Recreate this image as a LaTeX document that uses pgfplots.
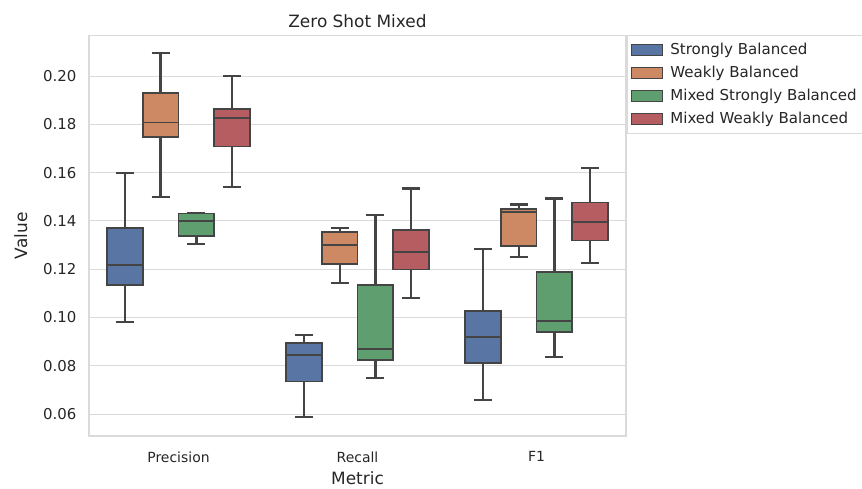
\documentclass[border=0pt]{standalone}
\usepackage{pgfplots}
\pgfplotsset{compat=1.18}
\usepgfplotslibrary{statistics}
\usepackage{fontspec}
\setmainfont{DejaVu Sans}
\definecolor{cSB}{HTML}{5975A4}
\definecolor{cWB}{HTML}{CC8963}
\definecolor{cMSB}{HTML}{5F9E6E}
\definecolor{cMWB}{HTML}{B55D60}
\definecolor{edge}{HTML}{444444}
\definecolor{gridc}{HTML}{DADADA}
\definecolor{txt}{HTML}{262626}
\pgfplotsset{
  bx/.style={draw=edge, line width=1.8bp, solid, mark=none, fill=#1},
  legimg/.style={legend image code/.code={\draw[draw=edge, line width=1bp, fill=#1] (0bp,-5.5bp) rectangle (31bp,5.5bp); \path (36bp,0);}},
}
\begin{document}
\begin{tikzpicture}
\begin{axis}[
  scale only axis, width=537bp, height=400.5bp,
  xmin=-0.5, xmax=2.5, ymin=0.0509, ymax=0.2168,
  xtick={0,1,2}, xticklabels={Precision,Recall,F1},
  ytick={0.06,0.08,0.10,0.12,0.14,0.16,0.18,0.20},
  yticklabel style={/pgf/number format/fixed, /pgf/number format/fixed zerofill, /pgf/number format/precision=2, font=\fontsize{15}{18}\selectfont, text=txt, xshift=-9bp},
  xticklabel style={font=\fontsize{14}{17}\selectfont, text=txt, yshift=-12bp},
  /pgf/number format/assume math mode=true,
  major tick length=0pt,
  ymajorgrids, grid style={draw=gridc, line width=1bp},
  axis line style={draw=gridc, line width=1.25bp},
  title={Zero Shot Mixed}, title style={font=\fontsize{17}{20}\selectfont, text=txt, yshift=-2bp},
  xlabel={Metric}, ylabel={Value},
  label style={font=\fontsize{17}{20}\selectfont, text=txt},
  xlabel style={yshift=-2bp},
  ylabel style={yshift=9bp},
  boxplot/draw direction=y,
  boxplot/box extend=0.2, boxplot/whisker extend=0.1,
  boxplot/every whisker/.style={draw=edge, line width=2.2bp, solid},
  boxplot/every median/.style={draw=edge, line width=1.8bp, solid},
  boxplot/every box/.style={draw=edge, line width=1.8bp, solid},
  legend style={at={(1.002,1)}, anchor=north west, draw=gridc, line width=0.8bp, fill=white, font=\fontsize{15.1}{18}\selectfont, text=txt, row sep=6.1bp, inner xsep=4bp, inner ysep=5.6bp},
  legend cell align=left,
]
\addlegendimage{legimg=cSB}\addlegendentry{Strongly Balanced}
\addlegendimage{legimg=cWB}\addlegendentry{Weakly Balanced}
\addlegendimage{legimg=cMSB}\addlegendentry{Mixed Strongly Balanced}
\addlegendimage{legimg=cMWB}\addlegendentry{Mixed Weakly Balanced}
% Precision
\addplot[bx=cSB, boxplot prepared={draw position=-0.3, lower whisker=0.0982, lower quartile=0.1134, median=0.1217, upper quartile=0.1369, upper whisker=0.1600}] coordinates {};
\addplot[bx=cWB, boxplot prepared={draw position=-0.1, lower whisker=0.1500, lower quartile=0.1748, median=0.1808, upper quartile=0.1930, upper whisker=0.2096}] coordinates {};
\addplot[bx=cMSB, boxplot prepared={draw position=0.1, lower whisker=0.1305, lower quartile=0.1338, median=0.1400, upper quartile=0.1431, upper whisker=0.1431}] coordinates {};
\addplot[bx=cMWB, boxplot prepared={draw position=0.3, lower whisker=0.1540, lower quartile=0.1708, median=0.1827, upper quartile=0.1863, upper whisker=0.2001}] coordinates {};
% Recall
\addplot[bx=cSB, boxplot prepared={draw position=0.7, lower whisker=0.0588, lower quartile=0.0735, median=0.0844, upper quartile=0.0893, upper whisker=0.0928}] coordinates {};
\addplot[bx=cWB, boxplot prepared={draw position=0.9, lower whisker=0.1144, lower quartile=0.1220, median=0.1301, upper quartile=0.1355, upper whisker=0.1369}] coordinates {};
\addplot[bx=cMSB, boxplot prepared={draw position=1.1, lower whisker=0.0748, lower quartile=0.0825, median=0.0869, upper quartile=0.1134, upper whisker=0.1423}] coordinates {};
\addplot[bx=cMWB, boxplot prepared={draw position=1.3, lower whisker=0.1082, lower quartile=0.1199, median=0.1271, upper quartile=0.1363, upper whisker=0.1534}] coordinates {};
% F1
\addplot[bx=cSB, boxplot prepared={draw position=1.7, lower whisker=0.0659, lower quartile=0.0812, median=0.0919, upper quartile=0.1026, upper whisker=0.1283}] coordinates {};
\addplot[bx=cWB, boxplot prepared={draw position=1.9, lower whisker=0.1251, lower quartile=0.1296, median=0.1438, upper quartile=0.1449, upper whisker=0.1468}] coordinates {};
\addplot[bx=cMSB, boxplot prepared={draw position=2.1, lower whisker=0.0837, lower quartile=0.0941, median=0.0985, upper quartile=0.1188, upper whisker=0.1493}] coordinates {};
\addplot[bx=cMWB, boxplot prepared={draw position=2.3, lower whisker=0.1224, lower quartile=0.1319, median=0.1396, upper quartile=0.1476, upper whisker=0.1620}] coordinates {};
\end{axis}
\pgfresetboundingbox
\useasboundingbox ([shift={(-89bp,-53bp)}]current axis.south west) rectangle ([shift={(236bp,35.5bp)}]current axis.north east);
\end{tikzpicture}
\end{document}
